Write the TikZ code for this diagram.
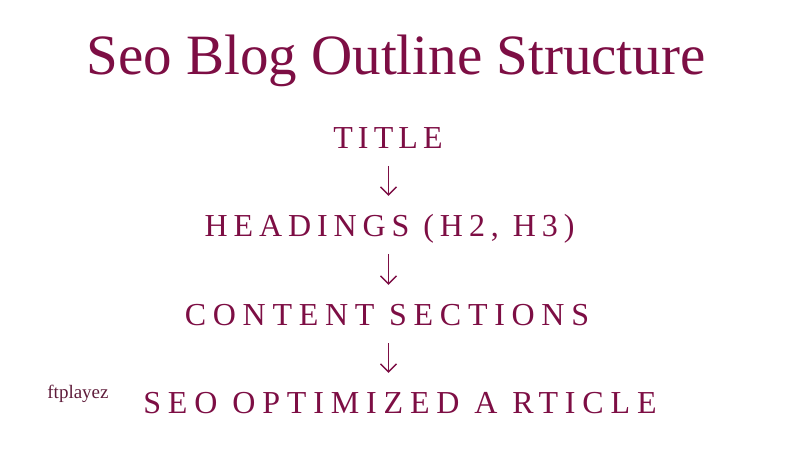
\documentclass[tikz,border=0pt]{standalone}
\usepackage{fontspec}
\usetikzlibrary{arrows.meta}
\setmainfont{Liberation Serif}
\newfontfamily\capsfont{Liberation Serif}
\definecolor{plum}{RGB}{125,14,68}
\definecolor{plumdark}{RGB}{95,28,58}
\newcommand{\spaced}[1]{\addfontfeatures{LetterSpace=#1}}
\begin{document}
\begin{tikzpicture}[x=1pt,y=1pt,
  headline/.style={text=plum,font=\fontsize{57}{60}\selectfont,anchor=base,inner sep=0pt},
  stepline/.style={text=plum,font=\capsfont\fontsize{32}{36}\selectfont,inner sep=0pt,
    text height=21.2pt,text depth=0pt,anchor=south},
  flowarrow/.style={draw=plum,line width=1.4pt,shorten <=17pt,shorten >=19.5pt,
    -{Straight Barb[length=8pt,width=16pt]}},
  credit/.style={text=plumdark,font=\fontsize{19}{22}\selectfont,anchor=base,inner sep=0pt}]
\useasboundingbox (0,0) rectangle (800,450);
\node[headline] (head) at (396,375) {Seo Blog Outline Structure};
\node[stepline] (s1) at (388,301) {\spaced{16}TITLE};
\node[stepline] (s2) at (389.5,213) {\spaced{18.5}HEADINGS (H2, H3)};
\node[stepline] (s3) at (387,124) {\spaced{21}CONTENT SECTIONS};
\node[stepline] (s4) at (400,36) {\spaced{21.4}SEO OPTIMIZED A RTICLE};
\node[credit] (cr) at (78,52) {ftplayez};
\coordinate (ax) at (388.5,0);
\draw[flowarrow] (s1.south -| ax) -- (s2.north -| ax);
\draw[flowarrow] (s2.south -| ax) -- (s3.north -| ax);
\draw[flowarrow] (s3.south -| ax) -- (s4.north -| ax);
\end{tikzpicture}
\end{document}
